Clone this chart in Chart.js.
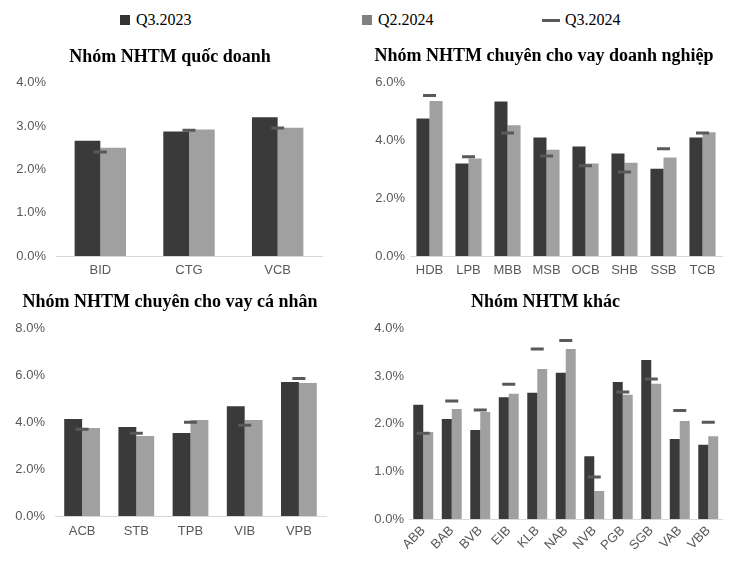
<!DOCTYPE html>
<html>
<head>
<meta charset="utf-8">
<script src="https://cdn.jsdelivr.net/npm/chart.js@4.4.1/dist/chart.umd.min.js"></script>
<style>
body{margin:0;background:#fff;width:732px;height:566px;position:relative;overflow:hidden;}
.box{position:absolute;}
#legend{position:absolute;left:0;top:0;width:732px;height:40px;font-family:"Liberation Serif",serif;font-size:16px;color:#000;}
#legend span{position:absolute;top:10px;line-height:20px;}
.sq{position:absolute;}
</style>
</head>
<body>
<div id="legend">
  <div class="sq" style="left:120px;top:15px;width:10px;height:10px;background:#333333"></div><span style="left:136px">Q3.2023</span>
  <div class="sq" style="left:362px;top:15px;width:10px;height:10px;background:#808080"></div><span style="left:378px">Q2.2024</span>
  <div class="sq" style="left:542px;top:19px;width:18px;height:3px;background:#595959"></div><span style="left:565px">Q3.2024</span>
</div>
<div class="box" style="left:0;top:40px;width:366px;height:245px"><canvas id="c1"></canvas></div>
<div class="box" style="left:366px;top:40px;width:366px;height:245px"><canvas id="c2"></canvas></div>
<div class="box" style="left:0;top:285px;width:366px;height:281px"><canvas id="c3"></canvas></div>
<div class="box" style="left:366px;top:285px;width:366px;height:281px"><canvas id="c4"></canvas></div>
<script>
// Nhóm NHTM quốc doanh
var catsQD = ['BID','CTG','VCB'];
var qd_q323 = [2.66, 2.87, 3.20];
var qd_q224 = [2.50, 2.92, 2.96];
var qd_q324 = [2.40, 2.90, 2.95];

// Nhóm NHTM chuyên cho vay doanh nghiệp
var catsDN = ['HDB','LPB','MBB','MSB','OCB','SHB','SSB','TCB'];
var dn_q323 = [4.76, 3.20, 5.35, 4.10, 3.79, 3.55, 3.02, 4.10];
var dn_q224 = [5.36, 3.37, 4.52, 3.68, 3.20, 3.23, 3.41, 4.28];
var dn_q324 = [5.55, 3.43, 4.26, 3.46, 3.12, 2.91, 3.71, 4.26];

// Nhóm NHTM chuyên cho vay cá nhân
var catsCN = ['ACB','STB','TPB','VIB','VPB'];
var cn_q323 = [4.14, 3.80, 3.54, 4.69, 5.72];
var cn_q224 = [3.76, 3.41, 4.10, 4.10, 5.68];
var cn_q324 = [3.70, 3.53, 4.00, 3.87, 5.87];

// Nhóm NHTM khác
var catsK = ['ABB','BAB','BVB','EIB','KLB','NAB','NVB','PGB','SGB','VAB','VBB'];
var k_q323 = [2.40, 2.10, 1.87, 2.56, 2.65, 3.07, 1.32, 2.88, 3.34, 1.68, 1.56];
var k_q224 = [1.83, 2.31, 2.25, 2.63, 3.15, 3.57, 0.59, 2.61, 2.84, 2.06, 1.74];
var k_q324 = [1.80, 2.48, 2.29, 2.83, 3.57, 3.75, 0.88, 2.67, 2.94, 2.28, 2.03];

var tickFont = {family: 'Liberation Sans, Arial, sans-serif', size: 13};
var tickColor = '#595959';

function veBieuDo(id, titulo, cats, s1, s2, s3, o){
	var canvas = document.getElementById(id).getContext('2d');
	return new Chart(canvas, {
		type: 'bar',
		data: {
			labels: cats,
			datasets: [
				{label: 'Q3.2024', type: 'line', data: s3, showLine: false,
				 pointStyle: 'line', pointRadius: 6.5, pointHoverRadius: 6.5,
				 pointBorderWidth: 3, borderColor: '#595959', backgroundColor: '#595959', order: 0},
				{label: 'Q3.2023', data: s1, backgroundColor: '#3a3a3a', order: 1},
				{label: 'Q2.2024', data: s2, backgroundColor: '#a0a0a0', order: 1}
			]
		},
		options: {
			responsive: true,
			maintainAspectRatio: false,
			animation: false,
			datasets: {bar: {barPercentage: 1, categoryPercentage: o.cat}},
			layout: {padding: {left: 0, right: o.right, top: 0, bottom: 0}},
			plugins: {
				legend: {display: false},
				tooltip: {enabled: false},
				title: {
					display: true, text: titulo, color: '#000',
					font: {family: 'Liberation Serif, Times New Roman, serif', size: 18, weight: 'bold'},
					padding: {top: o.tTop, bottom: o.tBottom}
				}
			},
			scales: {
				x: {
					grid: {display: false, drawTicks: false},
					border: {display: true, color: '#d9d9d9', width: 1},
					ticks: {font: tickFont, color: tickColor, padding: o.xPad,
						minRotation: o.rot, maxRotation: o.rot, autoSkip: false},
					afterFit: function(s){ s.height = o.xH; }
				},
				y: {
					min: 0, max: o.max,
					grid: {display: false, drawTicks: false},
					border: {display: false},
					ticks: {stepSize: o.step, font: tickFont, color: tickColor, padding: o.yPad,
						callback: function(v){ return v.toFixed(1) + '%'; }},
					afterFit: function(s){ s.width = o.yW; }
				},
				// empty right axis, only to keep space after the plot
				y2: {
					position: 'right', display: o.r2 > 0,
					grid: {display: false, drawTicks: false},
					border: {display: false},
					ticks: {display: false},
					afterFit: function(s){ s.width = o.r2; }
				}
			}
		}
	});
}

window.g1 = veBieuDo('c1', 'Nhóm NHTM quốc doanh', catsQD, qd_q323, qd_q224, qd_q324,
	{cat: 0.58, right: 26, r2: 18, max: 4, step: 1, yW: 56, yPad: 10, xH: 29, xPad: 7, rot: 0, tTop: 7, tBottom: 14});
window.g2 = veBieuDo('c2', 'Nhóm NHTM chuyên cho vay doanh nghiệp', catsDN, dn_q323, dn_q224, dn_q324,
	{cat: 0.67, right: 10, r2: 0, max: 6, step: 2, yW: 44, yPad: 5, xH: 29, xPad: 7, rot: 0, tTop: 6, tBottom: 15});
window.g3 = veBieuDo('c3', 'Nhóm NHTM chuyên cho vay cá nhân', catsCN, cn_q323, cn_q224, cn_q324,
	{cat: 0.66, right: 26, r2: 14, max: 8, step: 2, yW: 55, yPad: 10, xH: 50, xPad: 8, rot: 0, tTop: 7, tBottom: 15});
window.g4 = veBieuDo('c4', 'Nhóm NHTM khác', catsK, k_q323, k_q224, k_q324,
	{cat: 0.70, right: 7, r2: 0, max: 4, step: 1, yW: 43, yPad: 5, xH: 47, xPad: 4, rot: 45, tTop: 7, tBottom: 15});
</script>
</body>
</html>
